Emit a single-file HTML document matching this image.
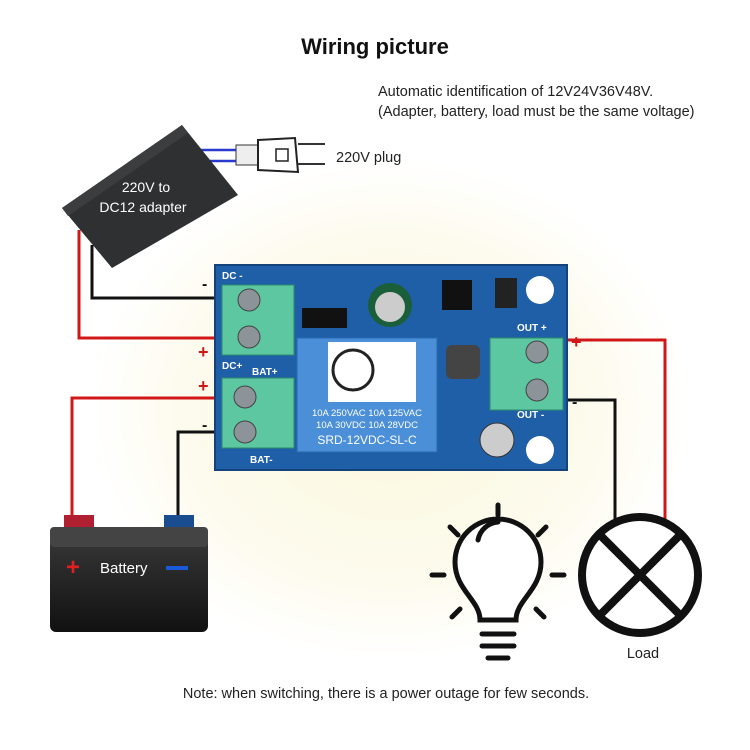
<!DOCTYPE html>
<html><head><meta charset="utf-8"><style>
body{margin:0;background:#fff}
svg{display:block;font-family:"Liberation Sans",sans-serif}
</style></head><body>
<svg width="750" height="750" viewBox="0 0 750 750">
<defs>
<radialGradient id="glow" cx="50%" cy="50%" r="50%">
<stop offset="0" stop-color="#fbf7dc"/><stop offset="0.7" stop-color="#fdfbee"/><stop offset="1" stop-color="#fff"/>
</radialGradient>
<linearGradient id="bat" x1="0" y1="0" x2="0" y2="1"><stop offset="0" stop-color="#3a3a3a"/><stop offset="1" stop-color="#111"/></linearGradient>
</defs>
<rect width="750" height="750" fill="#fff"/>
<ellipse cx="390" cy="410" rx="300" ry="250" fill="url(#glow)"/>
<text x="375" y="54" font-size="22" font-weight="bold" text-anchor="middle" fill="#111">Wiring picture</text>
<text x="378" y="96" font-size="14.5" fill="#222">Automatic identification of 12V24V36V48V.</text>
<text x="378" y="116" font-size="14.5" fill="#222">(Adapter, battery, load must be the same voltage)</text>

<g fill="none" stroke-width="3">
<polyline points="92,245 92,298 222,298" stroke="#111"/>
<polyline points="79,230 79,338 222,338" stroke="#d01818"/>
<polyline points="72,525 72,398 222,398" stroke="#d01818"/>
<polyline points="178,525 178,432 222,432" stroke="#111"/>
<polyline points="560,340 665,340 665,520" stroke="#d01818"/>
<polyline points="560,400 615,400 615,530" stroke="#111"/>
<line x1="195" y1="150" x2="240" y2="150" stroke="#2a3ad0" stroke-width="2.5"/>
<line x1="195" y1="161" x2="240" y2="161" stroke="#2a3ad0" stroke-width="2.5"/>
</g>
<g font-size="18" font-weight="bold" fill="#d01818">
<text x="198" y="358">+</text><text x="198" y="392">+</text><text x="571" y="348">+</text>
</g>
<g font-size="16" font-weight="bold" fill="#111">
<text x="202" y="289">-</text><text x="202" y="430">-</text><text x="572" y="407">-</text>
</g>

<polygon points="62,208 182,125 238,195 112,268" fill="#2f3032"/>
<polygon points="62,208 182,125 188,133 68,216" fill="#3c3d3f"/>
<text x="146" y="192" font-size="14" fill="#fff" text-anchor="middle">220V to</text>
<text x="143" y="212" font-size="14" fill="#fff" text-anchor="middle">DC12 adapter</text>
<rect x="236" y="145" width="22" height="20" fill="#eee" stroke="#333"/>
<path d="M258 140 L295 138 L298 172 L258 170 Z" fill="#fff" stroke="#222" stroke-width="2"/>
<rect x="276" y="149" width="12" height="12" fill="none" stroke="#222" stroke-width="1.5"/>
<line x1="298" y1="144" x2="325" y2="144" stroke="#333" stroke-width="2"/>
<line x1="298" y1="164" x2="325" y2="164" stroke="#333" stroke-width="2"/>
<text x="336" y="162" font-size="14.5" fill="#222">220V plug</text>

<rect x="215" y="265" width="352" height="205" fill="#1e5fa8" stroke="#14427a" stroke-width="2"/>
<rect x="222" y="285" width="72" height="70" fill="#5cc7a0" stroke="#2d8d6c"/>
<rect x="222" y="378" width="72" height="70" fill="#5cc7a0" stroke="#2d8d6c"/>
<rect x="490" y="338" width="73" height="72" fill="#5cc7a0" stroke="#2d8d6c"/>
<g fill="#8c9399" stroke="#444">
<circle cx="249" cy="300" r="11"/><circle cx="249" cy="337" r="11"/>
<circle cx="245" cy="397" r="11"/><circle cx="245" cy="432" r="11"/>
<circle cx="537" cy="352" r="11"/><circle cx="537" cy="390" r="11"/>
</g>
<g fill="#fff" font-size="10" font-weight="bold">
<text x="222" y="279">DC -</text><text x="222" y="369">DC+</text><text x="252" y="375">BAT+</text>
<text x="250" y="463">BAT-</text><text x="517" y="331">OUT +</text><text x="517" y="418">OUT -</text>
</g>
<rect x="297" y="338" width="140" height="114" fill="#4a8fd8" stroke="#2a6ab0"/>
<rect x="328" y="342" width="88" height="60" fill="#fff"/>
<circle cx="353" cy="370" r="20" fill="none" stroke="#222" stroke-width="3"/>
<g fill="#fff" font-size="9.5" text-anchor="middle">
<text x="367" y="416">10A 250VAC 10A 125VAC</text>
<text x="367" y="428">10A  30VDC 10A  28VDC</text>
<text x="367" y="444" font-size="12">SRD-12VDC-SL-C</text>
</g>
<circle cx="390" cy="305" r="22" fill="#1b5e3a"/><circle cx="390" cy="307" r="15" fill="#ccc"/>
<rect x="442" y="280" width="30" height="30" fill="#111"/>
<rect x="302" y="308" width="45" height="20" fill="#111"/>
<rect x="446" y="345" width="34" height="34" rx="6" fill="#444"/>
<circle cx="497" cy="440" r="17" fill="#ccc" stroke="#333"/>
<circle cx="540" cy="290" r="14" fill="#fff"/><circle cx="540" cy="450" r="14" fill="#fff"/>
<rect x="495" y="278" width="22" height="30" fill="#222"/>

<rect x="64" y="515" width="30" height="14" fill="#b02030"/>
<rect x="164" y="515" width="30" height="14" fill="#1a4d8f"/>
<rect x="50" y="527" width="158" height="105" rx="6" fill="url(#bat)"/>
<rect x="50" y="527" width="158" height="20" rx="4" fill="#444"/>
<text x="66" y="575" font-size="24" font-weight="bold" fill="#e02020">+</text>
<text x="100" y="573" font-size="15" fill="#fff">Battery</text>
<rect x="166" y="566" width="22" height="4" fill="#1a5ad8"/>

<g stroke="#111" stroke-width="5" fill="none" stroke-linecap="round">
<path d="M480 620 C480 600 455 590 455 562 A43 43 0 1 1 541 562 C541 590 516 600 516 620 Z" fill="#fff"/>
<path d="M478 540 A22 22 0 0 1 498 522"/>
<line x1="482" y1="634" x2="514" y2="634"/><line x1="482" y1="646" x2="514" y2="646"/><line x1="488" y1="658" x2="508" y2="658"/>
<line x1="498" y1="505" x2="498" y2="515"/>
<line x1="432" y1="575" x2="444" y2="575"/><line x1="552" y1="575" x2="564" y2="575"/>
<line x1="450" y1="527" x2="458" y2="535"/><line x1="546" y1="527" x2="538" y2="535"/>
<line x1="452" y1="617" x2="460" y2="609"/><line x1="544" y1="617" x2="536" y2="609"/>
</g>
<circle cx="640" cy="575" r="58" fill="#fff" stroke="#111" stroke-width="8"/>
<line x1="599" y1="534" x2="681" y2="616" stroke="#111" stroke-width="8"/>
<line x1="681" y1="534" x2="599" y2="616" stroke="#111" stroke-width="8"/>
<text x="643" y="658" font-size="14.5" fill="#222" text-anchor="middle">Load</text>

<text x="386" y="698" font-size="14.5" fill="#222" text-anchor="middle">Note: when switching, there is a power outage for few seconds.</text>
</svg>
</body></html>
